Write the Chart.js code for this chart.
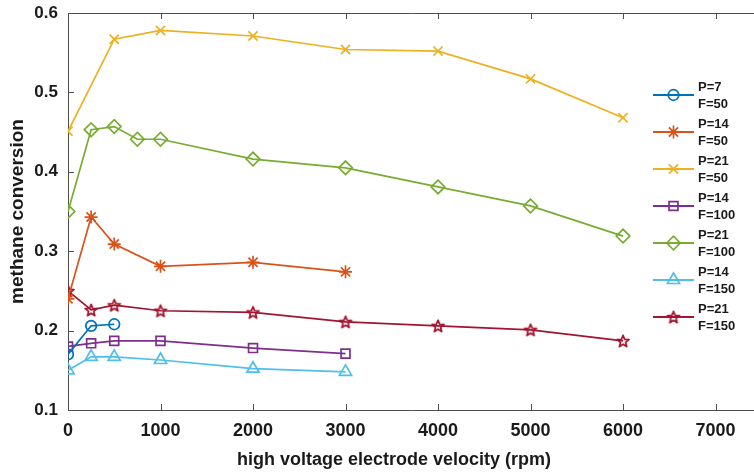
<!DOCTYPE html>
<html>
<head>
<meta charset="utf-8">
<script src="https://cdn.jsdelivr.net/npm/chart.js@4.4.1/dist/chart.umd.min.js"></script>
<style>
    html, body { margin: 0; padding: 0; background: #fff; overflow: hidden; }
</style>
</head>
<body>
<canvas id="chart" width="754" height="475"></canvas>
<script>
// rpm values (x) and methane conversion (y) for each series
const rpmP7F50 = [0, 250, 500];
const convP7F50 = [0.170, 0.206, 0.208];

const rpmP14F50 = [0, 250, 500, 1000, 2000, 3000];
const convP14F50 = [0.240, 0.343, 0.309, 0.281, 0.286, 0.274];

const rpmP21F50 = [0, 500, 1000, 2000, 3000, 4000, 5000, 6000];
const convP21F50 = [0.451, 0.567, 0.578, 0.571, 0.554, 0.552, 0.517, 0.468];

const rpmP14F100 = [0, 250, 500, 1000, 2000, 3000];
const convP14F100 = [0.180, 0.184, 0.187, 0.187, 0.178, 0.171];

const rpmP21F100 = [0, 250, 500, 750, 1000, 2000, 3000, 4000, 5000, 6000];
const convP21F100 = [0.350, 0.453, 0.457, 0.441, 0.441, 0.416, 0.405, 0.381, 0.357, 0.319];

const rpmP14F150 = [0, 250, 500, 1000, 2000, 3000];
const convP14F150 = [0.150, 0.167, 0.167, 0.163, 0.152, 0.148];

const rpmP21F150 = [0, 250, 500, 1000, 2000, 3000, 4000, 5000, 6000];
const convP21F150 = [0.250, 0.226, 0.232, 0.225, 0.223, 0.211, 0.206, 0.201, 0.187];

const seriesLabels = [
    ['P=7', 'F=50'], ['P=14', 'F=50'], ['P=21', 'F=50'], ['P=14', 'F=100'],
    ['P=21', 'F=100'], ['P=14', 'F=150'], ['P=21', 'F=150']
];
const xTicks = [0, 1000, 2000, 3000, 4000, 5000, 6000, 7000];
const yTicks = [0.1, 0.2, 0.3, 0.4, 0.5, 0.6];

const xTitle = 'high voltage electrode velocity (rpm)';
const yTitle = 'methane conversion';

// MATLAB default line colours
const colors = ['#0072BD', '#D95319', '#EDB120', '#7E2F8E', '#77AC30', '#4DBEEE', '#A2142F'];

// Hollow pentagram marker, drawn once into a small canvas
function makePentagram(color) {
    const c = document.createElement('canvas');
    c.width = 16;
    c.height = 16;
    const g = c.getContext('2d');
    g.strokeStyle = color;
    g.lineWidth = 1.7;
    g.lineJoin = 'round';
    g.beginPath();
    for (let i = 0; i < 10; i++) {
        const r = i % 2 === 0 ? 6.3 : 2.7;
        const a = -Math.PI / 2 + i * Math.PI / 5;
        const px = 8 + r * Math.cos(a);
        const py = 8.6 + r * Math.sin(a);
        if (i === 0) g.moveTo(px, py); else g.lineTo(px, py);
    }
    g.closePath();
    g.stroke();
    return c;
}

const pairs = (xs, ys) => xs.map((x, i) => ({ x: x, y: ys[i] }));

const seriesData = [
    pairs(rpmP7F50, convP7F50),
    pairs(rpmP14F50, convP14F50),
    pairs(rpmP21F50, convP21F50),
    pairs(rpmP14F100, convP14F100),
    pairs(rpmP21F100, convP21F100),
    pairs(rpmP14F150, convP14F150),
    pairs(rpmP21F150, convP21F150)
];
const pointStyles = ['circle', 'star', 'crossRot', 'rect', 'rectRot', 'triangle', makePentagram(colors[6])];
const pointRadii = [5.3, 6.5, 6.5, 6.3, 6.8, 7, 6];

const datasets = seriesData.map((data, i) => ({
    label: seriesLabels[i].join(' '),
    data: data,
    borderColor: colors[i],
    backgroundColor: 'rgba(0,0,0,0)',
    borderWidth: 1.7,
    pointStyle: pointStyles[i],
    pointRadius: pointRadii[i],
    pointBorderColor: colors[i],
    pointBackgroundColor: 'rgba(0,0,0,0)',
    pointBorderWidth: 1.7,
    tension: 0
}));

// Axis box with inward tick marks (MATLAB look)
const framePlugin = {
    id: 'frame',
    beforeDatasetsDraw(chart) {
        const { ctx, chartArea, scales } = chart;
        const { left, right, top, bottom } = chartArea;
        ctx.save();
        ctx.strokeStyle = '#4d4d4d';
        ctx.lineWidth = 1;
        ctx.beginPath();
        ctx.moveTo(right, top + 0.5);
        ctx.lineTo(left + 0.5, top + 0.5);
        ctx.lineTo(left + 0.5, bottom + 0.5);
        ctx.lineTo(right, bottom + 0.5);
        xTicks.forEach(v => {
            const px = Math.round(scales.x.getPixelForValue(v)) + 0.5;
            ctx.moveTo(px, bottom);
            ctx.lineTo(px, bottom - 6);
            ctx.moveTo(px, top);
            ctx.lineTo(px, top + 6);
        });
        yTicks.forEach(v => {
            const py = Math.round(scales.y.getPixelForValue(v)) + 0.5;
            ctx.moveTo(left, py);
            ctx.lineTo(left + 6, py);
        });
        ctx.stroke();
        ctx.restore();
    }
};

// Legend with two-line labels inside the axes on the right, plus the x title
const legendPlugin = {
    id: 'twoLineLegend',
    afterDraw(chart) {
        const ctx = chart.ctx;
        const x0 = 653, x1 = 694, textX = 698;
        const firstY = 95, step = 37;
        ctx.save();
        chart.data.datasets.forEach((ds, i) => {
            const y = firstY + i * step;
            ctx.strokeStyle = ds.borderColor;
            ctx.lineWidth = 2;
            ctx.beginPath();
            ctx.moveTo(x0, y);
            ctx.lineTo(x1, y);
            ctx.stroke();
            ctx.fillStyle = 'rgba(0,0,0,0)';
            ctx.lineWidth = ds.pointBorderWidth;
            Chart.helpers.drawPoint(ctx, {
                pointStyle: ds.pointStyle,
                radius: ds.pointRadius,
                rotation: 0,
                borderWidth: ds.pointBorderWidth
            }, (x0 + x1) / 2, y);
            ctx.fillStyle = '#1a1a1a';
            ctx.font = 'bold 13px "Liberation Sans", Arial, sans-serif';
            ctx.textAlign = 'left';
            ctx.textBaseline = 'middle';
            ctx.fillText(seriesLabels[i][0], textX, y - 8);
            ctx.fillText(seriesLabels[i][1], textX, y + 9);
        });

        // x axis title (centred a bit left of the axes centre, as in the figure)
        ctx.fillStyle = '#1a1a1a';
        ctx.font = 'bold 18px "Liberation Sans", Arial, sans-serif';
        ctx.textAlign = 'center';
        ctx.textBaseline = 'middle';
        ctx.fillText(xTitle, 394, 460);
        ctx.restore();
    }
};

const ctx = document.getElementById('chart').getContext('2d');

new Chart(ctx, {
    type: 'line',
    data: { datasets: datasets },
    options: {
        responsive: false,
        animation: false,
        events: [],
        layout: { autoPadding: false, padding: { top: 13, right: 0, left: 0, bottom: 0 } },
        plugins: {
            legend: { display: false },
            tooltip: { enabled: false }
        },
        scales: {
            x: {
                type: 'linear',
                min: 0,
                max: 7416,
                grid: { display: false, drawTicks: false },
                border: { display: false },
                afterBuildTicks: (scale) => {
                    scale.ticks = xTicks.map(v => ({ value: v }));
                },
                afterFit: (scale) => {
                    scale.height = 65;
                    scale.paddingLeft = 0;
                    scale.paddingRight = 0;
                },
                ticks: {
                    padding: 10,
                    maxRotation: 0,
                    color: '#1a1a1a',
                    font: { family: '"Liberation Sans", Arial, sans-serif', size: 18, weight: 'bold' },
                    callback: (v) => String(v)
                },
                title: { display: false }
            },
            y: {
                type: 'linear',
                min: 0.1,
                max: 0.6,
                grid: { display: false, drawTicks: false },
                border: { display: false },
                afterBuildTicks: (scale) => {
                    scale.ticks = yTicks.map(v => ({ value: v }));
                },
                afterFit: (scale) => {
                    scale.width = 68;
                    scale.paddingTop = 0;
                    scale.paddingBottom = 0;
                },
                ticks: {
                    padding: 10,
                    color: '#1a1a1a',
                    font: { family: '"Liberation Sans", Arial, sans-serif', size: 17, weight: 'bold' },
                    callback: (v) => Number(v).toFixed(1)
                },
                title: {
                    display: true,
                    text: yTitle,
                    color: '#1a1a1a',
                    padding: { top: 6, bottom: 4 },
                    font: { family: '"Liberation Sans", Arial, sans-serif', size: 19, weight: 'bold' }
                }
            }
        }
    },
    plugins: [framePlugin, legendPlugin]
});
</script>
</body>
</html>
